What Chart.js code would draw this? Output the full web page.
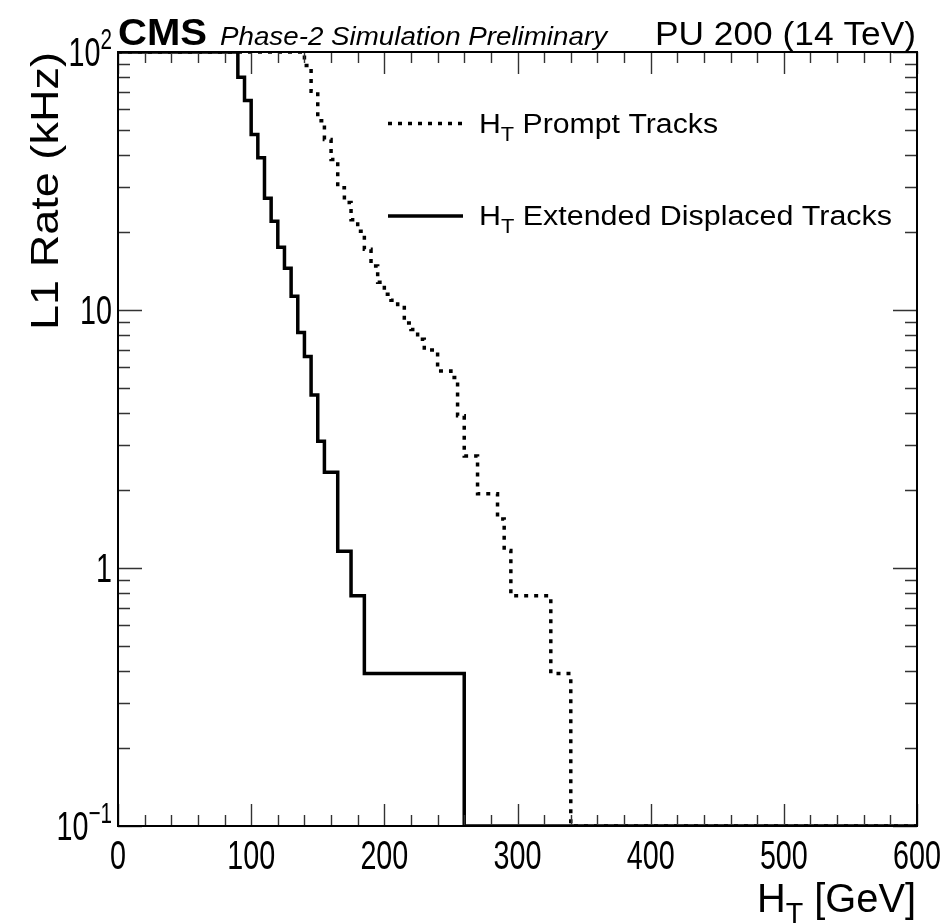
<!DOCTYPE html>
<html>
<head>
<meta charset="utf-8">
<script src="https://cdn.jsdelivr.net/npm/chart.js@4.4.1/dist/chart.umd.min.js"></script>
<style>
  html, body { margin: 0; padding: 0; background: #fff; }
  canvas { display: block; }
</style>
</head>
<body>
<canvas id="rateChart" width="941" height="923"></canvas>
<script>
// L1 rate vs HT threshold, stepped histograms (bin edges in GeV, rate per bin in kHz)
// 100 = at/above the top of the axis, 0 = no events (sits on the axis floor)
const displacedEdges = [0, 90, 95, 100, 105, 110, 115, 120, 125, 130, 135, 140, 145, 150, 155, 165, 175, 185, 260, 600];
const displacedRates = [100, 79.8, 64.8, 47.9, 38.9, 27.1, 22.1, 17.5, 14.5, 11.3, 8.18, 6.6, 4.68, 3.10, 2.35, 1.16, 0.78, 0.39, 0];

const promptEdges = [0, 140, 145, 150, 155, 160, 165, 170, 175, 180, 185, 190, 195, 200, 205, 210, 215, 220, 225, 230,
  240, 250, 255, 260, 270, 285, 290, 295, 325, 340, 600];
const promptRates = [100, 88.7, 70.4, 54.2, 45.8, 38.3, 29.8, 26.1, 22.4, 20.2, 17.2, 14.8, 12.8, 11.5, 10.9, 10.5, 8.9, 8.4, 7.7, 7.0,
  5.8, 5.47, 3.89, 2.72, 1.94, 1.55, 1.17, 0.78, 0.39, 0];

const xMajorTicks = [0, 100, 200, 300, 400, 500, 600];
const xMinorStep = 20;
const yDecades = [0.1, 1, 10, 100];
const yTickLabels = [['10', '\u22121'], ['1', ''], ['10', ''], ['10', '2']];

const legendLabels = ['Prompt Tracks', 'Extended Displaced Tracks'];

const X_MIN = 0, X_MAX = 600, Y_MIN = 0.1, Y_MAX = 100;
const FONT = '"Liberation Sans", Arial, Helvetica, sans-serif';

function clampRate(v) {
  return Math.min(Y_MAX, Math.max(Y_MIN, v));
}

// one point per bin edge, horizontal-first steps
function stepPoints(edges, rates) {
  const pts = rates.map((r, i) => ({ x: edges[i], y: clampRate(r) }));
  pts.push({ x: edges[edges.length - 1], y: clampRate(rates[rates.length - 1]) });
  return pts;
}

// draw a row of text runs (plain / sub / sup), squeezed horizontally by sx
function drawRuns(ctx, runs, x, y, o) {
  const fontFor = (r) => {
    const size = r.sub || r.sup ? o.size * 0.72 : o.size;
    return `${o.style || 'normal'} ${o.weight || 'normal'} ${size}px ${FONT}`;
  };
  let total = 0;
  runs.forEach(r => { ctx.font = fontFor(r); total += ctx.measureText(r.text).width; });
  const sx = o.width ? o.width / total : (o.sx || 1);
  const w = total * sx;
  let x0 = x;
  if (o.align === 'right') x0 = x - w;
  else if (o.align === 'center') x0 = x - w / 2;
  ctx.save();
  ctx.translate(x0, y);
  if (o.rotate) ctx.rotate(o.rotate);
  ctx.scale(sx, 1);
  ctx.fillStyle = '#000';
  ctx.textBaseline = 'alphabetic';
  ctx.textAlign = 'left';
  let cx = 0;
  runs.forEach(r => {
    ctx.font = fontFor(r);
    let dy = 0;
    if (r.sub) dy = o.size * 0.28;
    if (r.sup) dy = -o.size * 0.42;
    ctx.fillText(r.text, cx, dy);
    cx += ctx.measureText(r.text).width;
  });
  ctx.restore();
}

const rootFrame = {
  id: 'rootFrame',
  afterDatasetsDraw(chart) {
    const ctx = chart.ctx;
    const xs = chart.scales.x, ys = chart.scales.y;
    const a = chart.chartArea;

    // ticks on all four sides, pointing inwards
    ctx.save();
    ctx.strokeStyle = '#333';
    ctx.lineWidth = 1.4;
    ctx.beginPath();
    for (let v = X_MIN; v <= X_MAX; v += xMinorStep) {
      const px = Math.round(xs.getPixelForValue(v)) + 0.5;
      const len = v % 100 === 0 ? 22 : 11;
      ctx.moveTo(px, a.bottom); ctx.lineTo(px, a.bottom - len);
      ctx.moveTo(px, a.top); ctx.lineTo(px, a.top + len);
    }
    yDecades.forEach((d, i) => {
      for (let m = 1; m <= 9; m++) {
        const v = d * m;
        if (v > Y_MAX) break;
        if (i === yDecades.length - 1 && m > 1) break;
        const py = Math.round(ys.getPixelForValue(v)) + 0.5;
        const len = m === 1 ? 24 : 12;
        ctx.moveTo(a.left, py); ctx.lineTo(a.left + len, py);
        ctx.moveTo(a.right, py); ctx.lineTo(a.right - len, py);
      }
    });
    ctx.stroke();

    // frame
    ctx.strokeStyle = '#000';
    ctx.lineWidth = 2;
    ctx.strokeRect(a.left, a.top, a.right - a.left, a.bottom - a.top);
    ctx.restore();

    // x tick labels
    xMajorTicks.forEach(v => {
      drawRuns(ctx, [{ text: String(v) }], xs.getPixelForValue(v), 869, { size: 41, sx: 0.7, align: 'center' });
    });
    // y tick labels
    yDecades.forEach((d, i) => {
      const [base, exp] = yTickLabels[i];
      const runs = [{ text: base }];
      if (exp) runs.push({ text: exp, sup: true });
      const py = ys.getPixelForValue(d);
      drawRuns(ctx, runs, a.left - 6, py + 14, { size: 41, sx: 0.7, align: 'right' });
    });

    // axis titles
    drawRuns(ctx, [{ text: 'H' }, { text: 'T', sub: true }, { text: ' [GeV]' }], 916, 912,
      { size: 40, width: 159, align: 'right' });
    drawRuns(ctx, [{ text: 'L1 Rate (kHz)' }], 58, 330,
      { size: 38, width: 278, rotate: -Math.PI / 2 });

    // header
    drawRuns(ctx, [{ text: 'CMS' }], 118, 45, { size: 36, weight: 'bold', width: 89 });
    drawRuns(ctx, [{ text: 'Phase-2 Simulation Preliminary' }], 220, 45, { size: 26, style: 'italic', width: 387 });
    drawRuns(ctx, [{ text: 'PU 200 (14 TeV)' }], 916, 45, { size: 33, width: 261, align: 'right' });

    // legend
    const rows = [
      { y: 123.5, dash: [4, 6], text: legendLabels[0], width: 239, base: 133 },
      { y: 216, dash: [], text: legendLabels[1], width: 413, base: 225 }
    ];
    rows.forEach(r => {
      ctx.save();
      ctx.strokeStyle = '#000';
      ctx.lineWidth = 3.5;
      ctx.setLineDash(r.dash);
      ctx.beginPath();
      ctx.moveTo(388, r.y);
      ctx.lineTo(463, r.y);
      ctx.stroke();
      ctx.restore();
      drawRuns(ctx, [{ text: 'H' }, { text: 'T', sub: true }, { text: ' ' + r.text }], 479, r.base,
        { size: 27, width: r.width });
    });
  }
};

new Chart(document.getElementById('rateChart').getContext('2d'), {
  type: 'line',
  data: {
    datasets: [
      {
        label: 'HT Prompt Tracks',
        data: stepPoints(promptEdges, promptRates),
        stepped: 'before',
        borderColor: '#000',
        borderWidth: 3.5,
        borderDash: [4, 6],
        pointRadius: 0,
        fill: false
      },
      {
        label: 'HT Extended Displaced Tracks',
        data: stepPoints(displacedEdges, displacedRates),
        stepped: 'before',
        borderColor: '#000',
        borderWidth: 3.5,
        pointRadius: 0,
        fill: false
      }
    ]
  },
  options: {
    responsive: false,
    animation: false,
    devicePixelRatio: 1,
    layout: { padding: { left: 118, top: 52, right: 24, bottom: 97 } },
    plugins: { legend: { display: false }, tooltip: { enabled: false } },
    scales: {
      x: { type: 'linear', min: X_MIN, max: X_MAX, display: false },
      y: { type: 'logarithmic', min: Y_MIN, max: Y_MAX, display: false }
    }
  },
  plugins: [rootFrame]
});
</script>
</body>
</html>
